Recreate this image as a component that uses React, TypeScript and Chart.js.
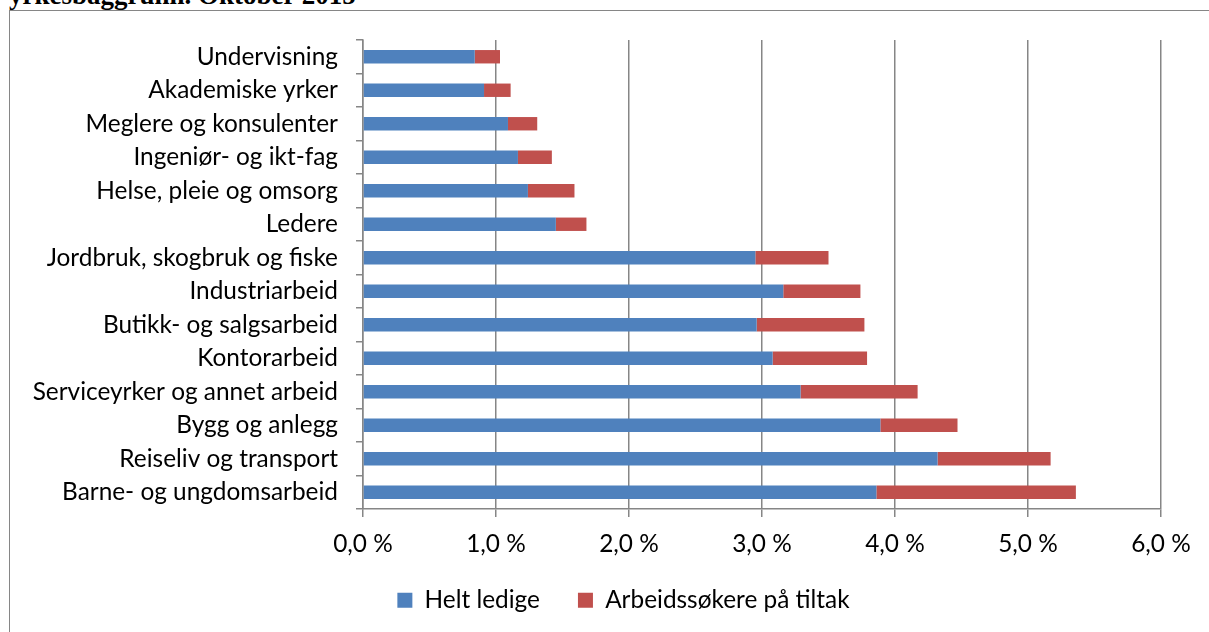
import React, { useEffect, useRef } from "react";
import { Chart, registerables } from "chart.js";
Chart.register(...registerables);

const categories = [
  "Undervisning",
  "Akademiske yrker",
  "Meglere og konsulenter",
  "Ingeniør- og ikt-fag",
  "Helse, pleie og omsorg",
  "Ledere",
  "Jordbruk, skogbruk og fiske",
  "Industriarbeid",
  "Butikk- og salgsarbeid",
  "Kontorarbeid",
  "Serviceyrker og annet arbeid",
  "Bygg og anlegg",
  "Reiseliv og transport",
  "Barne- og ungdomsarbeid",
];
const heltLedige = [0.84, 0.91, 1.09, 1.165, 1.24, 1.45, 2.95, 3.16, 2.96, 3.08, 3.29, 3.89, 4.32, 3.86];
const paTiltak = [0.19, 0.2, 0.22, 0.255, 0.35, 0.23, 0.55, 0.58, 0.81, 0.71, 0.88, 0.58, 0.85, 1.5];
const seriesNames = ["Helt ledige", "Arbeidssøkere på tiltak"];
const xMin = 0;
const xMax = 6;
const xStep = 1;

const FONT = "Lato";

const legendPlacer = {
  id: "legendPlacer",
  afterLayout(chart: any) {
    const lg = chart.legend;
    if (lg) {
      const h = lg.height;
      lg.left = 86;
      lg.top = 550;
      lg.bottom = 550 + h;
    }
  },
};

export default function App() {
  const ref = useRef<HTMLCanvasElement>(null);
  useEffect(() => {
    const font = { family: FONT, size: 24.4 };
    const gridColor = "#868686";
    const chart = new Chart(ref.current!, {
      type: "bar",
      data: {
        labels: categories,
        datasets: [
          {
            label: seriesNames[0],
            data: heltLedige,
            backgroundColor: "#4F81BD",
            categoryPercentage: 0.4,
            barPercentage: 1,
          },
          {
            label: seriesNames[1],
            data: paTiltak,
            backgroundColor: "#C0504D",
            categoryPercentage: 0.4,
            barPercentage: 1,
          },
        ],
      },
      options: {
        indexAxis: "y",
        animation: false,
        responsive: false,
        maintainAspectRatio: false,
        layout: { padding: { left: 0, right: 48, top: 40, bottom: 0 } },
        scales: {
          x: {
            stacked: true,
            min: xMin,
            max: xMax,
            ticks: {
              stepSize: xStep,
              color: "#000",
              font,
              padding: 13,
              callback: (v: any) => Number(v).toFixed(1).replace(".", ",") + " %",
            },
            grid: { color: gridColor, lineWidth: 1.5, tickLength: 8 },
            border: { color: gridColor, width: 1.5 },
            afterFit: (s: any) => {
              s.height = 50.6;
            },
          },
          y: {
            stacked: true,
            ticks: { color: "#000", font, padding: 18 },
            grid: {
              drawOnChartArea: false,
              offset: true,
              tickLength: 7,
              color: gridColor,
              lineWidth: 1.5,
            },
            border: { color: gridColor, width: 1.5 },
            afterFit: (s: any) => {
              s.width = 363;
            },
          },
        },
        plugins: {
          legend: {
            position: "bottom",
            labels: {
              color: "#000",
              font,
              boxWidth: 15,
              boxHeight: 15,
              padding: 38,
            },
          },
          tooltip: { enabled: false },
        },
      },
      plugins: [legendPlacer],
    });
    return () => chart.destroy();
  }, []);

  return (
    <div
      style={{
        position: "absolute",
        left: 0,
        top: 0,
        width: 1209,
        height: 632,
        overflow: "hidden",
        background: "#fff",
      }}
    >
      <div
        style={{
          position: "absolute",
          left: 9,
          top: -20,
          fontFamily: "'Liberation Serif', 'Times New Roman', serif",
          fontWeight: "bold",
          fontSize: 27,
          whiteSpace: "nowrap",
        }}
      >
        yrkesbaggrunn. Oktober 2015
      </div>
      <div
        style={{
          position: "absolute",
          left: 9,
          top: 10,
          width: 1220,
          height: 640,
          border: "1px solid #868686",
          boxSizing: "border-box",
        }}
      />
      <canvas
        ref={ref}
        width={1209}
        height={632}
        style={{ position: "absolute", left: 0, top: 0, width: 1209, height: 632 }}
      />
    </div>
  );
}
